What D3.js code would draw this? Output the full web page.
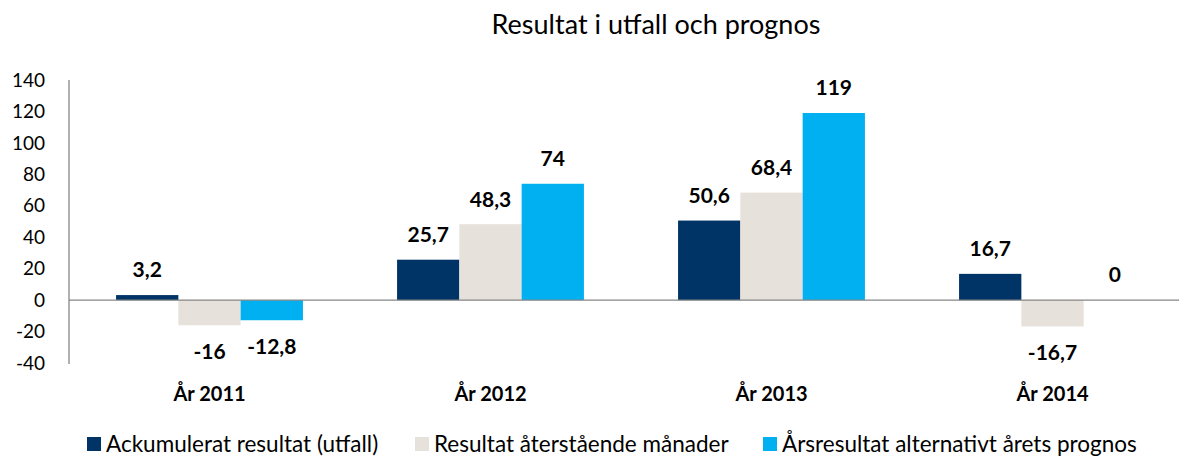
<!DOCTYPE html>
<html>
<head>
<meta charset="utf-8">
<script src="https://cdn.jsdelivr.net/npm/d3@7"></script>
<style>
  body { margin: 0; background: #fff; }
  text { font-family: Lato, "Open Sans", sans-serif; }
</style>
</head>
<body>
<script>
// data
let years = ["År 2011", "År 2012", "År 2013", "År 2014"]
let seriesNames = ["Ackumulerat resultat (utfall)", "Resultat återstående månader", "Årsresultat alternativt årets prognos"]
let ackumulerat = [3.2, 25.7, 50.6, 16.7]
let aterstaende = [-16, 48.3, 68.4, -16.7]
let arsresultat = [-12.8, 74, 119, 0]
let yTicks = [-40, -20, 0, 20, 40, 60, 80, 100, 120, 140]

function colors(i) {
    let c = ["#003366", "#E7E1DB", "#00B0F0"]
    return c[i]
}

let w = 1179
let h = 459
let series = [ackumulerat, aterstaende, arsresultat]

let svg = d3.select("body").append("svg")
    .attr("width", w)
    .attr("height", h)

let x = d3.scaleBand()
    .domain(years)
    .range([69, 1193])
    .paddingInner(0.335)
    .paddingOuter(0.1675)
let xs = d3.scaleBand()
    .domain([0, 1, 2])
    .range([0, x.bandwidth()])
let y = d3.scaleLinear()
    .domain([-40, 140])
    .range([363, 80])

// title
svg.append("text")
    .attr("x", 656)
    .attr("y", 25)
    .attr("dy", "0.35em")
    .attr("text-anchor", "middle")
    .style("font-size", "27px")
    .attr("fill", "#000")
    .text("Resultat i utfall och prognos")

// y axis labels
svg.append("g").selectAll("text")
    .data(yTicks)
    .enter()
    .append("text")
        .attr("x", 45)
        .attr("y", d => y(d))
        .attr("dy", "0.35em")
        .attr("text-anchor", "end")
        .style("font-size", "19px")
        .attr("fill", "#000")
        .text(d => d)

// bars
series.forEach((s, i) => {
    let g = svg.append("g")
    g.selectAll("rect")
        .data(s)
        .enter()
        .append("rect")
            .attr("x", (d, j) => x(years[j]) + xs(i))
            .attr("width", xs.bandwidth())
            .attr("y", d => y(Math.max(0, d)))
            .attr("height", d => Math.abs(y(d) - y(0)))
            .attr("fill", colors(i))
    g.selectAll("text")
        .data(s)
        .enter()
        .append("text")
            .attr("x", (d, j) => x(years[j]) + xs(i) + xs.bandwidth() / 2)
            .attr("y", d => d < 0 ? y(d) + 26 : y(d) - 25)
            .attr("dy", "0.35em")
            .attr("text-anchor", "middle")
            .style("font-size", "21px")
            .style("font-weight", "bold")
            .attr("fill", "#000")
            .text(d => String(d).replace(".", ","))
})

// axes lines
svg.append("line")
    .attr("x1", 69).attr("x2", 1193)
    .attr("y1", y(0)).attr("y2", y(0))
    .attr("stroke", "#868686")
    .attr("stroke-width", 1.3)
svg.append("line")
    .attr("x1", 69).attr("x2", 69)
    .attr("y1", 80).attr("y2", 364)
    .attr("stroke", "#868686")
    .attr("stroke-width", 1.3)

// category labels
svg.append("g").selectAll("text")
    .data(years)
    .enter()
    .append("text")
        .attr("x", d => x(d) + x.bandwidth() / 2)
        .attr("y", 394)
        .attr("dy", "0.35em")
        .attr("text-anchor", "middle")
        .style("font-size", "20px")
        .style("font-weight", "bold")
        .attr("fill", "#000")
        .text(d => d)

// legend
let legendX = [87, 415, 763]
let leg = svg.append("g").selectAll("g")
    .data(seriesNames)
    .enter()
    .append("g")
        .attr("transform", (d, i) => "translate(" + legendX[i] + ",437)")
leg.append("rect")
    .attr("width", 14)
    .attr("height", 14)
    .attr("fill", (d, i) => colors(i))
leg.append("text")
    .attr("x", 19)
    .attr("y", 7)
    .attr("dy", "0.35em")
    .style("font-size", "22.5px")
    .attr("fill", "#000")
    .text(d => d)
</script>
</body>
</html>
